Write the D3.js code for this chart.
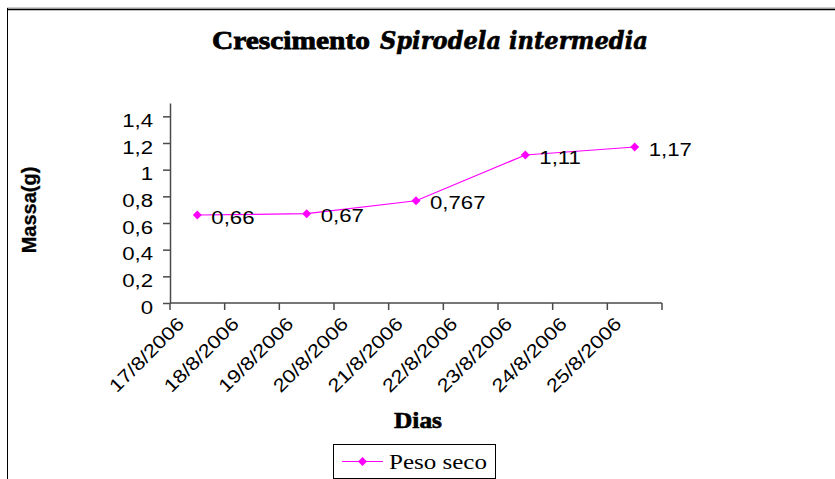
<!DOCTYPE html>
<html>
<head>
<meta charset="utf-8">
<script src="https://cdn.jsdelivr.net/npm/d3@7"></script>
<style>
  body { margin: 0; background: #fff; }
  svg { display: block; }
</style>
</head>
<body>
<svg id="chart" width="835" height="479"></svg>
<script>
// Dry mass of Spirodela intermedia over the days of the trial
const categories = ["17/8/2006", "18/8/2006", "19/8/2006", "20/8/2006", "21/8/2006",
                    "22/8/2006", "23/8/2006", "24/8/2006", "25/8/2006"];
const pointDates = ["17/8/2006", "19/8/2006", "21/8/2006", "23/8/2006", "25/8/2006"];
const masses = [0.66, 0.67, 0.767, 1.11, 1.17];
const yTicks = [0, 0.2, 0.4, 0.6, 0.8, 1, 1.2, 1.4];
const seriesName = "Peso seco";

const svg = d3.select("#chart");
const comma = v => String(v).replace(".", ",");
const SANS = "'Liberation Sans', Arial, sans-serif";
const SERIF = "'Liberation Serif', 'Times New Roman', serif";
const SERIF_IT = "'DejaVu Serif', 'Liberation Serif', serif";
const MAGENTA = "#ff00ff";
const AXIS = "#4a4a4a";

// Outer chart frame (only top and left edges fall inside the view)
svg.append("line").attr("x1", 7).attr("x2", 835).attr("y1", 8).attr("y2", 8)
  .attr("stroke", "#9a9a9a").attr("stroke-width", 1);
svg.append("line").attr("x1", 7).attr("x2", 835).attr("y1", 9.5).attr("y2", 9.5)
  .attr("stroke", "#000").attr("stroke-width", 1.5);
svg.append("line").attr("x1", 7.5).attr("x2", 7.5).attr("y1", 8).attr("y2", 479)
  .attr("stroke", "#000").attr("stroke-width", 1);

// Scales
const x = d3.scaleBand().domain(categories).range([170, 662]).padding(0);
const y = d3.scaleLinear().domain([0, 1.5]).range([303, 103]);
const cx = d => x(d) + x.bandwidth() / 2;

// Horizontally widened text placed through a transform
function wideText(parent, tx, ty, str, opts) {
  return parent.append("text")
    .attr("transform", `translate(${tx},${ty}) rotate(${opts.rotate || 0}) scale(${opts.sx || 1},1)`)
    .attr("text-anchor", opts.anchor || "start")
    .attr("font-family", opts.family || SANS)
    .attr("font-size", opts.size || 18)
    .attr("font-weight", opts.weight || "normal")
    .attr("font-style", opts.style || "normal")
    .attr("fill", "#000")
    .text(str);
}

// Text stretched to fill a given horizontal span
function fitText(parent, x0, x1, ty, str, opts) {
  const t = wideText(parent, x0, ty, str, opts);
  const w = t.node().getComputedTextLength();
  t.attr("transform", `translate(${x0},${ty}) scale(${(x1 - x0) / w},1)`);
  return t;
}

// Y axis
const yAxis = svg.append("g").attr("transform", "translate(170,0)")
  .call(d3.axisLeft(y).tickValues(yTicks).tickSize(7).tickSizeOuter(0).tickFormat(""));
yAxis.select(".domain").attr("stroke", AXIS).attr("stroke-width", 1.5);
yAxis.selectAll(".tick line").attr("stroke", AXIS).attr("stroke-width", 1.5);
yTicks.forEach(v => wideText(svg, 153, y(v) + 10.5, comma(v), { anchor: "end", sx: 1.2, size: 18.5 }));

// X axis with ticks on category boundaries
const xAxis = svg.append("g").attr("transform", "translate(0,303)");
xAxis.append("line").attr("x1", x.range()[0]).attr("x2", x.range()[1])
  .attr("stroke", AXIS).attr("stroke-width", 1.5);
const boundaries = categories.map(c => x(c)).concat([x.range()[1]]);
xAxis.selectAll("line.tk").data(boundaries).join("line").attr("class", "tk")
  .attr("x1", d => d).attr("x2", d => d).attr("y1", 0).attr("y2", 7)
  .attr("stroke", AXIS).attr("stroke-width", 1.5);
categories.forEach(c =>
  wideText(svg, cx(c) - 12, 325, c, { anchor: "end", rotate: -45, sx: 1.18, size: 18.5 }));

// Series line
const line = d3.line().x((d, i) => cx(pointDates[i])).y(d => y(d));
svg.append("path").datum(masses).attr("d", line)
  .attr("fill", "none").attr("stroke", MAGENTA).attr("stroke-width", 1.2);

// Diamond markers
const diamond = (px, py, hw, hh) =>
  `M${px},${py - hh}L${px + hw},${py}L${px},${py + hh}L${px - hw},${py}Z`;
svg.selectAll("path.mk").data(masses).join("path").attr("class", "mk")
  .attr("d", (d, i) => diamond(cx(pointDates[i]), y(d), 4.5, 4.5))
  .attr("fill", MAGENTA);

// Value labels
masses.forEach((v, i) =>
  wideText(svg, cx(pointDates[i]) + 14, y(v) + 8.5, comma(v), { sx: 1.2, size: 18.5 }));

// Axis titles
wideText(svg, 36, 210, "Massa(g)", { anchor: "middle", rotate: -90, sx: 1, size: 20, weight: "bold" })
  .attr("stroke", "#000").attr("stroke-width", 0.3);
fitText(svg, 394, 442, 428, "Dias", { size: 23, weight: "bold", family: SERIF })
  .attr("stroke", "#000").attr("stroke-width", 0.6);

// Chart title: upright name and italic species, each across its own span
fitText(svg, 212, 370, 49, "Crescimento", { size: 25, weight: "bold", family: SERIF })
  .attr("stroke", "#000").attr("stroke-width", 0.8);
fitText(svg, 380, 648, 49, "Spirodela intermedia", { size: 24, weight: "bold", style: "italic", family: SERIF_IT })
  .attr("stroke", "#000").attr("stroke-width", 0.6);

// Legend
const lg = svg.append("g");
lg.append("rect").attr("x", 333.5).attr("y", 444.5).attr("width", 162).attr("height", 34)
  .attr("fill", "#fff").attr("stroke", "#000").attr("stroke-width", 1);
lg.append("line").attr("x1", 342).attr("x2", 383).attr("y1", 461.5).attr("y2", 461.5)
  .attr("stroke", MAGENTA).attr("stroke-width", 1.2);
lg.append("path").attr("d", diamond(362.5, 461.5, 4.5, 4.5)).attr("fill", MAGENTA);
fitText(lg, 389, 487, 468.5, seriesName, { size: 22, family: SERIF });
</script>
</body>
</html>
